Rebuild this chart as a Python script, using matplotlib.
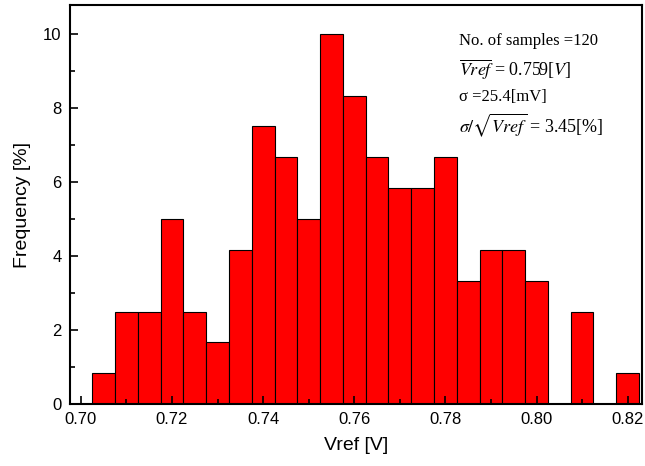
import matplotlib
matplotlib.use("Agg")
import matplotlib.pyplot as plt
import numpy as np

bin_left = [0.7025, 0.7075, 0.7125, 0.7175, 0.7225, 0.7275, 0.7325, 0.7375,
            0.7425, 0.7475, 0.7525, 0.7575, 0.7625, 0.7675, 0.7725, 0.7775,
            0.7825, 0.7875, 0.7925, 0.7975, 0.8025, 0.8075, 0.8125, 0.8175]
counts = [1, 3, 3, 6, 3, 2, 5, 9, 8, 6, 12, 10, 8, 7, 7, 8, 4, 5, 5, 4, 0, 3, 0, 1]
n_samples = 120
freq = [c / n_samples * 100 for c in counts]
bin_width = 0.005

plt.rcParams['mathtext.fontset'] = 'stix'
plt.rcParams['font.family'] = ['Liberation Sans', 'DejaVu Sans']
fig = plt.figure(figsize=(6.45, 4.66), dpi=100)
ax = fig.add_axes([0.1085, 0.133, 0.8865, 0.856])
ax.bar(bin_left, freq, width=bin_width, align='edge', color='#FF0000',
       edgecolor='#000000', linewidth=0.8)
ax.set_xlim(0.6976, 0.8231)
ax.set_ylim(0, 10.78)
ax.set_xticks([0.70, 0.72, 0.74, 0.76, 0.78, 0.80, 0.82])
ax.set_xticks(np.arange(0.71, 0.82, 0.02), minor=True)
ax.set_yticks([0, 2, 4, 6, 8, 10])
ax.set_yticks([1, 3, 5, 7, 9], minor=True)
ax.tick_params(which='major', direction='in', length=6, width=1.2, labelsize=12, pad=6)
ax.tick_params(which='minor', direction='in', length=3.5, width=1.2)
for s in ax.spines.values():
    s.set_linewidth(1.5)
ax.set_xlabel('Vref [V]', fontsize=14, labelpad=7)
ax.set_ylabel('Frequency [%]', fontsize=14, labelpad=9)

tf = dict(family='Liberation Serif', fontsize=12, transform=ax.transAxes)
ax.text(0.681, 0.90, 'No. of samples =120', **tf)
ax.text(0.681, 0.825, r'$\overline{Vref}\ $= 0.759[$V$]', family='Liberation Serif',
        fontsize=13, transform=ax.transAxes)
ax.text(0.681, 0.76, 'σ =25.4[mV]', **tf)
ax.text(0.681, 0.68, r'$\sigma/\sqrt{Vref}\ $= 3.45[%]', family='Liberation Serif',
        fontsize=13, transform=ax.transAxes)

fig.savefig('out.png', dpi=100)
